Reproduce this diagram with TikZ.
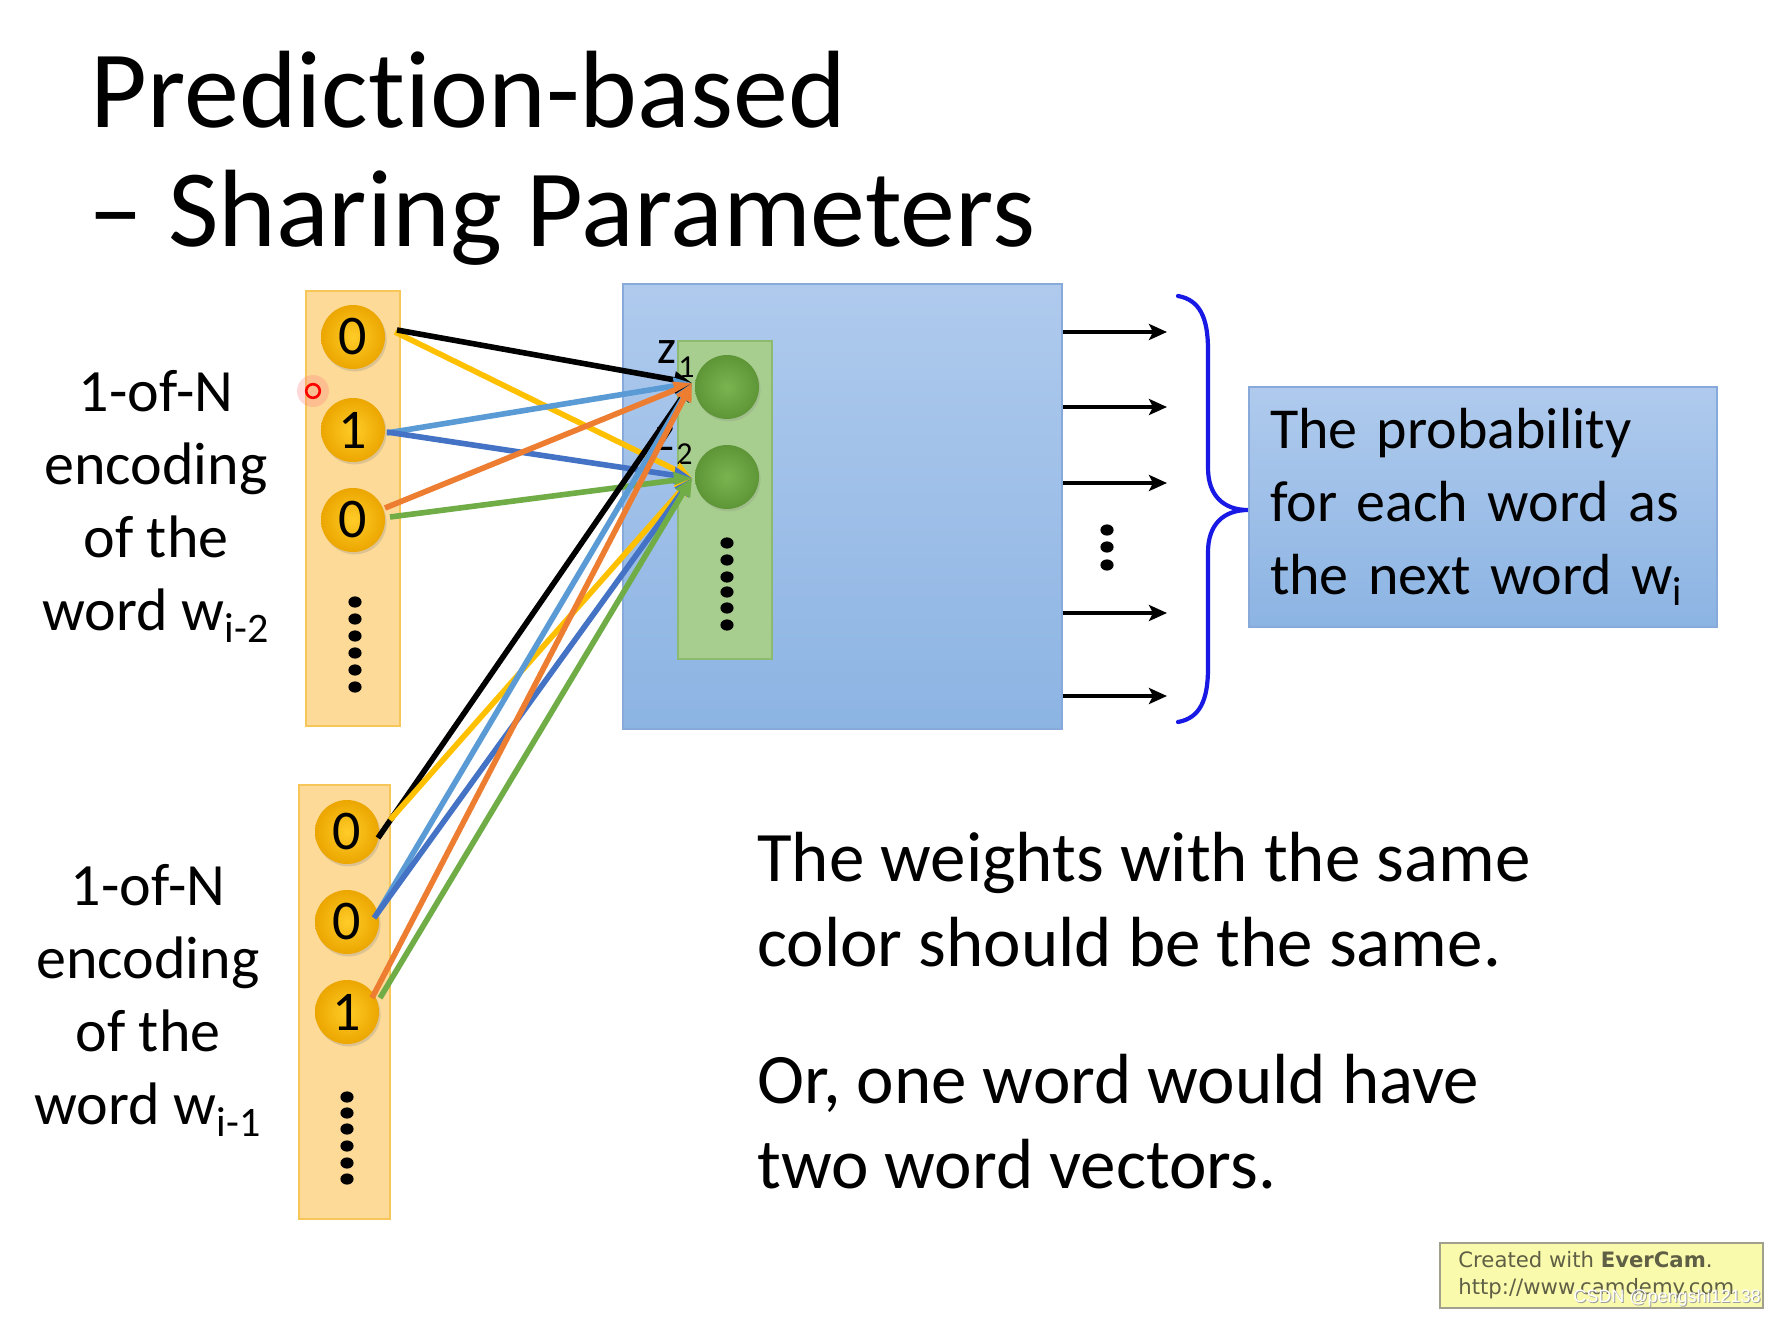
\documentclass[tikz,border=0pt]{standalone}
\usepackage{fontspec}
\setmainfont{Carlito}[Ligatures=NoCommon]
\newfontfamily\wmfont{DejaVu Sans}
\newfontfamily\csdnfont{Liberation Sans}
\usetikzlibrary{arrows.meta,shadows,calc}

\definecolor{obfill}{RGB}{253,218,152}
\definecolor{obdraw}{RGB}{247,198,88}
\definecolor{goldin}{RGB}{255,204,40}
\definecolor{goldout}{RGB}{236,166,0}
\definecolor{bluetop}{RGB}{175,202,237}
\definecolor{bluebot}{RGB}{140,180,227}
\definecolor{bluedraw}{RGB}{135,170,218}
\definecolor{gbfill}{RGB}{168,206,143}
\definecolor{gbdraw}{RGB}{140,186,110}
\definecolor{gcin}{RGB}{122,180,80}
\definecolor{gcout}{RGB}{94,150,55}
\definecolor{wyellow}{RGB}{255,192,0}
\definecolor{wlblue}{RGB}{91,155,213}
\definecolor{wdblue}{RGB}{68,114,196}
\definecolor{worange}{RGB}{237,125,49}
\definecolor{wgreen}{RGB}{112,173,71}
\definecolor{bracecol}{RGB}{25,25,230}
\definecolor{wmfill}{RGB}{250,250,172}
\definecolor{wmdraw}{RGB}{160,160,140}
\definecolor{wmtext}{RGB}{95,95,70}

\begin{document}
\begin{tikzpicture}[x=0.5pt,y=-0.5pt,
  obox/.style={draw=obdraw, line width=1pt, fill=obfill, inner sep=0},
  onehot/.style={circle, minimum size=32pt, inner sep=0, shading=radial,
    inner color=goldin, outer color=goldout,
    drop shadow={opacity=0.25, shadow xshift=0.8pt, shadow yshift=-1.2pt},
    font=\fontsize{28pt}{28pt}\selectfont},
  bigbox/.style={draw=bluedraw, line width=1pt, top color=bluetop, bottom color=bluebot, inner sep=0},
  hidbox/.style={draw=gbdraw, line width=1pt, fill=gbfill, inner sep=0},
  hidunit/.style={circle, minimum size=32pt, inner sep=0, shading=radial,
    inner color=gcin, outer color=gcout,
    drop shadow={opacity=0.2, shadow xshift=0.8pt, shadow yshift=-1.2pt}},
  probbox/.style={draw=bluedraw, line width=1pt, top color=bluetop, bottom color=bluebot,
    inner xsep=10.5pt, inner ysep=0pt, text width=213pt, align=left, minimum height=120pt,
    font=\fontsize{29pt}{36.5pt}\selectfont},
  lab/.style={align=center, inner sep=0, font=\fontsize{30pt}{36.5pt}\selectfont},
  para/.style={align=left, inner sep=0, font=\fontsize{35.5pt}{42.5pt}\selectfont},
  titletext/.style={anchor=base west, inner sep=0, font=\fontsize{55pt}{66pt}\selectfont},
  zlab/.style={anchor=base west, inner sep=0, font=\fontsize{24pt}{24pt}\selectfont},
  wire/.style={line width=2.8pt, -{Triangle[length=9pt,width=8pt]}},
  outarrow/.style={line width=2.3pt, -{Stealth[length=9pt,width=8pt,inset=2pt]}},
  dotmark/.style={fill=black}
]
\fill[white] (0,0) rectangle (1770,1316);
\useasboundingbox (0,0) rectangle (1770,1316);

% title
\node[titletext] (title1) at (90,128) {Predict\kern0pt ion-based};
\node[titletext] (title2) at (88,246) {– Sharing Parameters};

% input boxes
\node[obox, minimum width=47pt, minimum height=217.5pt] (ubox) at (353,508.5) {};
\node[obox, minimum width=45.5pt, minimum height=217pt] (lbox) at (344.5,1002) {};

% big network box and hidden layer
\node[bigbox, minimum width=219.5pt, minimum height=222.5pt] (big) at (842.5,506.5) {};
\node[hidbox, minimum width=47pt, minimum height=159pt] (hid) at (725,500) {};

% z labels
\node[zlab] (z1) at (657,363) {z\kern1pt\raisebox{-7pt}{\fontsize{16pt}{16pt}\selectfont 1}};
\node[zlab] (z2) at (655,450) {z\kern1pt\raisebox{-7pt}{\fontsize{16pt}{16pt}\selectfont 2}};

% hidden units
\node[hidunit] (g1) at (727,387) {};
\node[hidunit] (g2) at (727,477) {};
\foreach \y in {543,560,577,592,608,625} \fill[dotmark] (727,\y) ellipse[x radius=3.3pt, y radius=2.8pt];

% one-hot units
\node[onehot] (u0) at (353,337) {0};
\node[onehot] (u1) at (353,430) {1};
\node[onehot] (u2) at (353,520) {0};
\foreach \y in {602,619,636,653,670,687} \fill[dotmark] (355,\y) ellipse[x radius=3.3pt, y radius=2.8pt];

\node[onehot] (l0) at (347,832) {0};
\node[onehot] (l1) at (347,922) {0};
\node[onehot] (l2) at (347,1012) {1};
\foreach \y in {1097,1113,1129,1146,1163,1179} \fill[dotmark] (347,\y) ellipse[x radius=3.3pt, y radius=2.8pt];

% targets of the weights
\coordinate (t1) at (692,383);
\coordinate (t2) at (692,478);

% weights from w_{i-2}
\draw[wire, wyellow] ($(u0)+(42,-5)$) -- (t2);
\draw[wire, black] ($(u0)+(44,-7)$) -- (t1);
\draw[wire, wlblue] ($(u1)+(34,3)$) -- (t1);
\draw[wire, wdblue] ($(u1)+(34,2)$) -- (t2);
\draw[wire, worange] ($(u2)+(32,-12)$) -- (t1);
\draw[wire, wgreen] ($(u2)+(37,-3)$) -- (t2);

% weights from w_{i-1}
\draw[wire, black] ($(l0)+(31,6)$) -- (t1);
\draw[wire, wyellow] ($(l0)+(43,-12)$) -- (t2);
\draw[wire, wlblue] ($(l1)+(30,-8)$) -- (t1);
\draw[wire, wdblue] ($(l1)+(27,-4)$) -- (t2);
\draw[wire, worange] ($(l2)+(25,-14)$) -- (t1);
\draw[wire, wgreen] ($(l2)+(33,-14)$) -- (t2);

% cursor mark
\fill[red!50, opacity=0.3] (313,391) circle[radius=8pt];
\draw[red, line width=1.3pt] (313,391) circle[radius=3.4pt];

% left labels
\node[lab, anchor=north] (lab1) at (156,370) {1-of-N\\encoding\\of the\\word w\textsubscript{i-2}};
\node[lab, anchor=north] (lab2) at (148,864) {1-of-N\\encoding\\of the\\word w\textsubscript{i-1}};

% outputs
\coordinate (o1) at (1167,332);
\coordinate (o2) at (1167,407);
\coordinate (o3) at (1167,483);
\coordinate (o4) at (1167,613);
\coordinate (o5) at (1167,696);
\foreach \o in {o1,o2,o3,o4,o5} \draw[outarrow] (big.east |- \o) -- (\o);
\foreach \y in {530,547,565} \fill[dotmark] (1107,\y) ellipse[x radius=3.3pt, y radius=2.8pt];

% brace
\draw[bracecol, line width=2.1pt, line cap=round]
  (1178,296) .. controls (1200,300) and (1208,318) .. (1208,350)
  -- (1208,468) .. controls (1208,496) and (1224,510) .. (1248,510)
  .. controls (1224,510) and (1208,524) .. (1208,552)
  -- (1208,668) .. controls (1208,700) and (1200,718) .. (1178,722);

% probability box
\node[probbox] (prob) at (1483,507) {The probability\\for each word as\\the next word w\textsubscript{i}};

% bottom text
\node[para, anchor=north west] (p1) at (757,832) {The weights with the same\\color should be the same.};
\node[para, anchor=north west] (p2) at (757,1054) {Or, one word would have\\two word vectors.};

% watermark
\node[draw=wmdraw, line width=1pt, fill=wmfill, minimum width=161.5pt, minimum height=32.5pt, inner sep=0] (wm) at (1601.5,1275.5) {};
\node[anchor=base west, inner sep=0, text=wmtext, font=\wmfont\fontsize{10.6pt}{11pt}\selectfont] (wm1) at (1458,1267) {Created with \textbf{EverCam}.};
\node[anchor=base west, inner sep=0, text=wmtext, font=\wmfont\fontsize{10.6pt}{11pt}\selectfont] (wm2) at (1458,1294) {http://www.camdemy.com};
\node[anchor=base west, inner sep=0, text=gray!75, font=\csdnfont\fontsize{9pt}{10pt}\selectfont] (csdnsh) at (1574,1303) {CSDN @pengshi12138};
\node[anchor=base west, inner sep=0, text=white, font=\csdnfont\fontsize{9pt}{10pt}\selectfont] (csdn) at (1573,1302) {CSDN @pengshi12138};
\end{tikzpicture}
\end{document}
